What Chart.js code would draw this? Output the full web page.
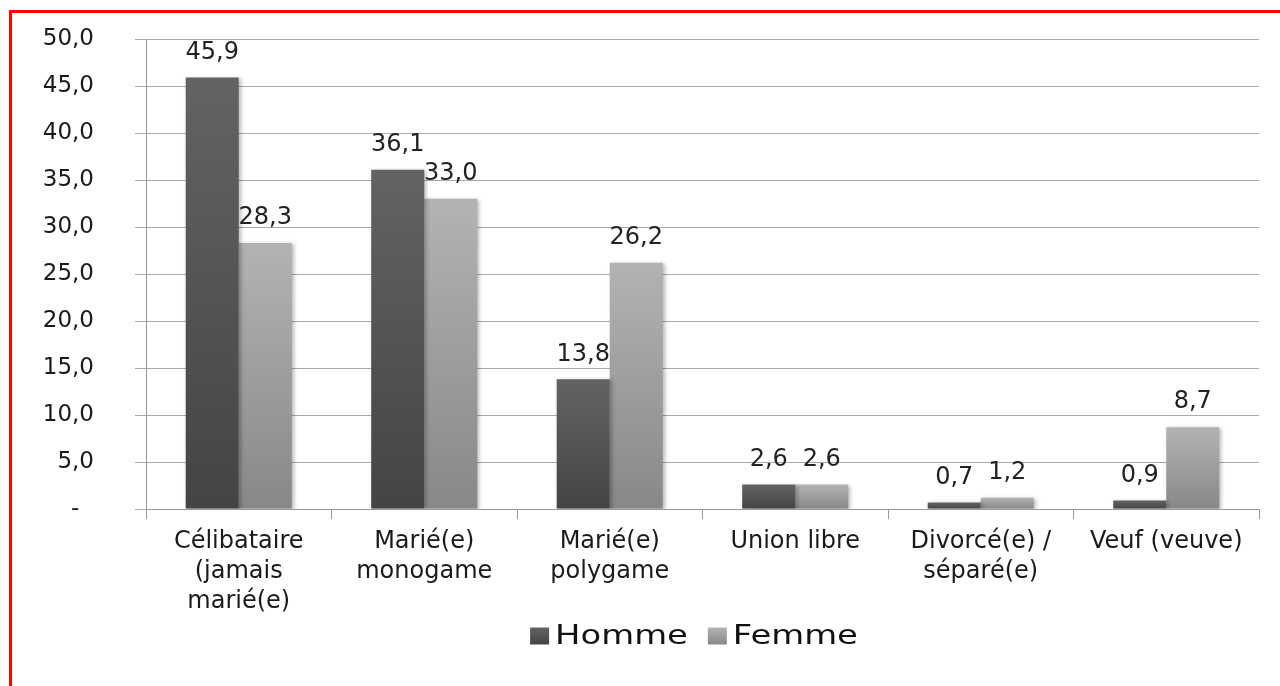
<!DOCTYPE html>
<html>
<head>
<meta charset="utf-8">
<script src="https://cdn.jsdelivr.net/npm/chart.js@4/dist/chart.umd.min.js"></script>
<style>
  html, body { margin: 0; padding: 0; background: #fff; }
  #wrap { position: relative; width: 1280px; height: 686px; overflow: hidden; }
  #frame { position: absolute; left: 9px; top: 10px; right: -10px; bottom: -10px;
           border-left: 3px solid #f00; border-top: 3px solid #f00; pointer-events: none; }
  canvas { position: absolute; left: 0; top: 0; }
</style>
</head>
<body>
<div id="wrap">
  <canvas id="myChart" width="1280" height="686"></canvas>
  <div id="frame"></div>
</div>
<script>
// categories and values (%)
const categories = [
  ['Célibataire', '(jamais', 'marié(e)'],
  ['Marié(e)', 'monogame'],
  ['Marié(e)', 'polygame'],
  'Union libre',
  ['Divorcé(e) /', 'séparé(e)'],
  'Veuf (veuve)'
];
const homme = [45.9, 36.1, 13.8, 2.6, 0.7, 0.9];
const femme = [28.3, 33.0, 26.2, 2.6, 1.2, 8.7];
const seriesNames = ['Homme', 'Femme'];
const yMin = 0, yMax = 50, yStep = 5;

const FONT = '"DejaVu Sans", sans-serif';
const fmt = v => v.toFixed(1).replace('.', ',');

// vertical gradient per bar, like the office shading
const barGradient = (top, bottom, flat) => (ctx) => {
  const chart = ctx.chart;
  if (ctx.type !== 'data' || !chart.chartArea) return flat;
  const y = chart.scales.y;
  const y0 = y.getPixelForValue(ctx.parsed.y);
  const y1 = y.getPixelForValue(0);
  if (y1 - y0 < 1) return top;
  const g = chart.ctx.createLinearGradient(0, y0, 0, y1);
  g.addColorStop(0, top);
  g.addColorStop(1, bottom);
  return g;
};

const shades = [['#636363', '#444444'], ['#b3b3b3', '#888888']];

const valueLabels = {
  id: 'valueLabels',
  beforeDatasetsDraw(chart) {
    const c = chart.ctx;
    c.save();
    c.shadowColor = 'rgba(0,0,0,0.28)';
    c.shadowBlur = 4;
    c.shadowOffsetX = 2;
    c.shadowOffsetY = 1;
  },
  afterDatasetsDraw(chart) {
    const c = chart.ctx;
    c.restore();
    c.save();
    c.font = '24px ' + FONT;
    c.fillStyle = '#222';
    c.textAlign = 'center';
    c.textBaseline = 'middle';
    chart.data.datasets.forEach((ds, i) => {
      chart.getDatasetMeta(i).data.forEach((bar, j) => {
        c.fillText(fmt(ds.data[j]), bar.x, bar.y - 25);
      });
    });
    c.restore();
  }
};

// legend drawn by hand: the original uses a wide, stretched face
const wideLegend = {
  id: 'wideLegend',
  afterDraw(chart) {
    const c = chart.ctx;
    const cx = 694, cy = 636, boxW = 19, boxH = 17, gap = 6, itemGap = 20, sx = 1.3;
    c.save();
    c.font = '26px ' + FONT;
    c.textBaseline = 'middle';
    const widths = chart.data.datasets.map(ds => c.measureText(ds.label).width * sx);
    const total = widths.reduce((a, w) => a + boxW + gap + w, 0) + itemGap * (widths.length - 1);
    let x = cx - total / 2;
    chart.data.datasets.forEach((ds, i) => {
      const g = c.createLinearGradient(0, cy - boxH / 2, 0, cy + boxH / 2);
      g.addColorStop(0, shades[i][0]);
      g.addColorStop(1, shades[i][1]);
      c.fillStyle = g;
      c.fillRect(x, cy - boxH / 2, boxW, boxH);
      c.fillStyle = '#111';
      c.save();
      c.translate(x + boxW + gap, cy + 1);
      c.scale(sx, 1);
      c.fillText(ds.label, 0, 0);
      c.restore();
      x += boxW + gap + widths[i] + itemGap;
    });
    c.restore();
  }
};

const chartRef = document.getElementById('myChart').getContext('2d');
new Chart(chartRef, {
  type: 'bar',
  data: {
    labels: categories,
    datasets: [
      {
        label: seriesNames[0],
        data: homme,
        backgroundColor: barGradient(shades[0][0], shades[0][1], '#555555')
      },
      {
        label: seriesNames[1],
        data: femme,
        backgroundColor: barGradient(shades[1][0], shades[1][1], '#9f9f9f')
      }
    ]
  },
  options: {
    responsive: false,
    animation: false,
    layout: { padding: { left: 0, right: 21, top: 39, bottom: 74 } },
    datasets: { bar: { categoryPercentage: 0.572, barPercentage: 1.0 } },
    plugins: {
      legend: { display: false },
      tooltip: { enabled: false }
    },
    scales: {
      x: {
        afterFit: s => { s.height = 103; },
        grid: { drawOnChartArea: false, offset: true, tickLength: 10, color: '#999' },
        border: { color: '#999' },
        ticks: { color: '#1a1a1a', padding: 8, maxRotation: 0, autoSkip: false,
                 font: { family: FONT, size: 24, lineHeight: 1.25 } }
      },
      y: {
        min: yMin, max: yMax,
        // the big label gap would otherwise be added above the plot too
        afterFit: s => { s.width = 146; s.paddingTop = 0; s.paddingBottom = 0; },
        grid: { color: '#aaaaaa', tickLength: 11 },
        border: { color: '#999' },
        ticks: {
          stepSize: yStep, padding: 41, color: '#1a1a1a',
          font: { family: FONT, size: 23 },
          callback: v => v === 0 ? '-  ' : fmt(v)
        }
      }
    }
  },
  plugins: [valueLabels, wideLegend]
});
</script>
</body>
</html>
